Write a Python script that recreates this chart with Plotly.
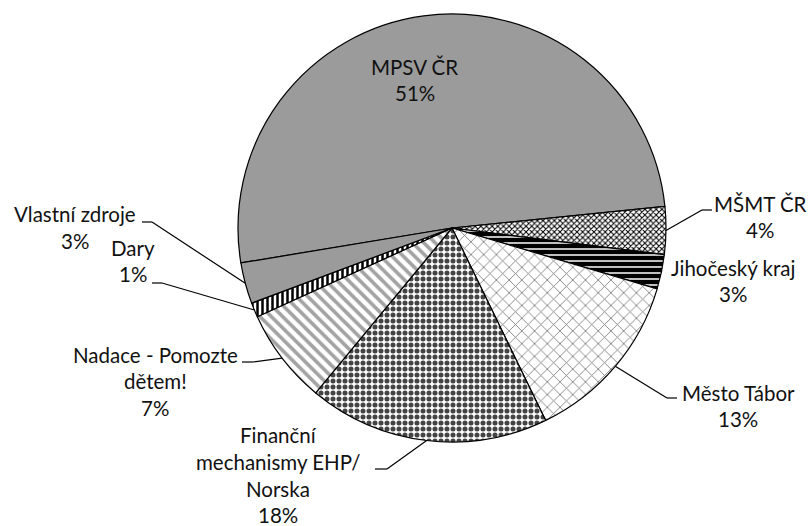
import math
import plotly.graph_objects as go

# ---- data ----
labels = ["MPSV ČR", "MŠMT ČR", "Jihočeský kraj", "Město Tábor",
          "Finanční mechanismy EHP/ Norska", "Nadace - Pomozte dětem!",
          "Dary", "Vlastní zdroje"]
values = [51.0, 3.6, 2.6, 13.2, 18.2, 7.2, 1.1, 3.1]
label_lines = [["MPSV ČR"], ["MŠMT ČR"], ["Jihočeský kraj"], ["Město Tábor"],
               ["Finanční", "mechanismy EHP/", "Norska"],
               ["Nadace - Pomozte", "dětem!"], ["Dary"], ["Vlastní zdroje"]]

# ---- styles ----
base_colors = ["#9b9b9b", "#ffffff", "#000000", "#ffffff", "#ffffff", "#ffffff", "#ffffff", "#9b9b9b"]
pat_shape = ["", "x", "-", "x", ".", "\\", "|", ""]
pat_fg = ["#9b9b9b", "#000000", "#ffffff", "#7a7a7a", "#444444", "#a3a3a3", "#000000", "#9b9b9b"]
pat_bg = base_colors
pat_size = [8, 4, 6, 9, 6, 8, 5, 8]
pat_sol = [0.3, 0.45, 0.25, 0.18, 0.55, 0.45, 0.5, 0.3]

W, H = 809, 526
CX, CY, R = 452, 228, 214
ROT = 260.6

# label layout (pixel): center x, first baseline y
lab_pos = [(415, 74), (760, 211), (733, 275), (738, 400),
           (278, 443), (155, 362), (133, 255), (75, 222)]
LINE_SP = 26.5
# leader lines: (elbow x, elbow y, text-side x) or None
leaders = [None, (702, 210, 712), None, (667, 398, 677),
           (387, 469, 375), (253, 362, 242), (162, 283, 152), (152, 222, 142)]

FONT = "Lato"
FS = 20.5

def px(x):
    return x / W

def py(y):
    return 1 - y / H

fig = go.Figure(go.Pie(
    labels=labels, values=values, sort=False, direction="clockwise",
    rotation=ROT, textinfo="none", hoverinfo="label+percent",
    domain=dict(x=[px(CX - R), px(CX + R)], y=[py(CY + R), py(CY - R)]),
    marker=dict(colors=base_colors, line=dict(color="black", width=1.2),
                pattern=dict(shape=pat_shape, fgcolor=pat_fg, bgcolor=pat_bg,
                             size=pat_size, solidity=pat_sol)),
    showlegend=False,
))

total = sum(values)
annotations = []
shapes = []
cum = 0.0
for i, v in enumerate(values):
    pct = f"{round(v / total * 100)}%"
    lines = label_lines[i] + [pct]
    cx, by = lab_pos[i]
    for k, t in enumerate(lines):
        yb = by + k * LINE_SP
        annotations.append(dict(
            x=px(cx), y=py(yb - 7.5), xref="paper", yref="paper",
            text=t, showarrow=False, xanchor="center", yanchor="middle",
            font=dict(family=FONT, size=FS, color="#111111")))
    mid = math.radians(ROT + (cum + v / 2) / total * 360)
    cum += v
    if leaders[i] is not None:
        ex, ey, tx = leaders[i]
        ax = CX + R * math.sin(mid)
        ay = CY - R * math.cos(mid)
        shapes.append(dict(type="line", xref="paper", yref="paper",
                           x0=px(ax), y0=py(ay), x1=px(ex), y1=py(ey),
                           line=dict(color="black", width=1.2)))
        shapes.append(dict(type="line", xref="paper", yref="paper",
                           x0=px(ex), y0=py(ey), x1=px(tx), y1=py(ey),
                           line=dict(color="black", width=1.2)))

fig.update_layout(
    width=W, height=H, margin=dict(l=0, r=0, t=0, b=0),
    paper_bgcolor="white", plot_bgcolor="white",
    annotations=annotations, shapes=shapes,
)

fig.write_html("out.html", config={"displayModeBar": False},
               post_script="document.body.style.margin='0px';")
